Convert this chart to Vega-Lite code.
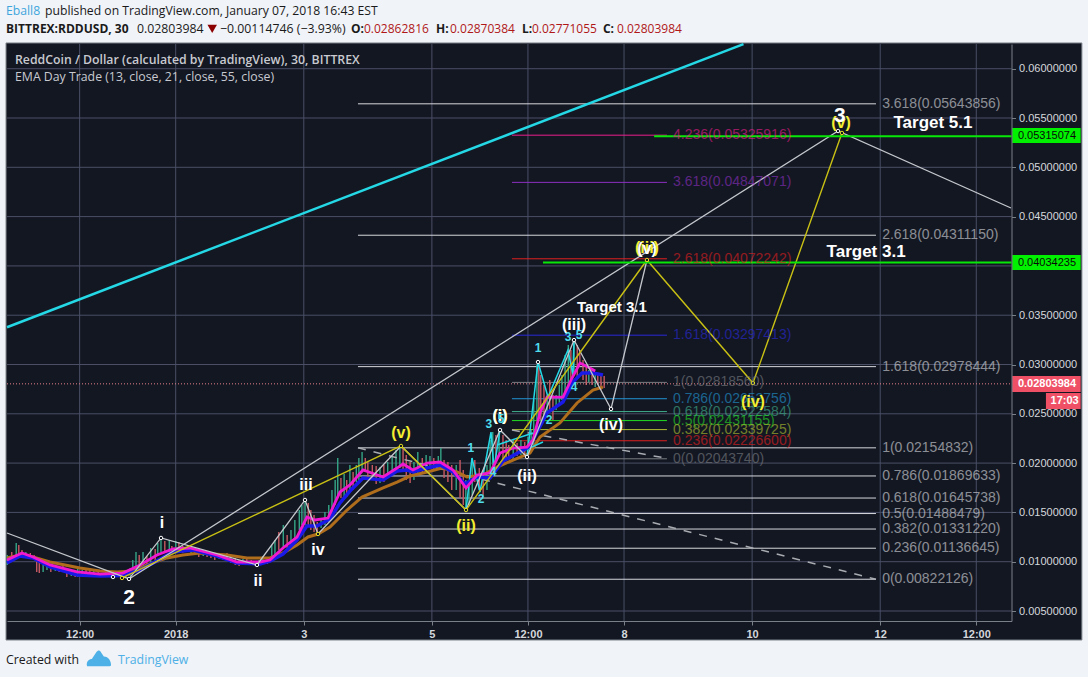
{
"$schema":"https://vega.github.io/schema/vega-lite/v6.json",
"width":1004.5,"height":577,
"autosize":{"type":"none"},
"padding":{"left":7,"top":44,"right":76.5,"bottom":56},
"background":"#f0f3f8",
"config":{"view":{"stroke":null},"text":{"font":"Liberation Sans"}},
"datasets":{
"panel":[{"t":-2.649,"t2":14.149,"v":0.06261,"v2":0.00206}],
"vgrid":[{"t":-1.5,"v":0.003986,"v2":0.062506},{"t":0,"v":0.003986,"v2":0.062506},{"t":2,"v":0.003986,"v2":0.062506},{"t":4,"v":0.003986,"v2":0.062506},{"t":5.5,"v":0.003986,"v2":0.062506},{"t":7,"v":0.003986,"v2":0.062506},{"t":9,"v":0.003986,"v2":0.062506},{"t":11,"v":0.003986,"v2":0.062506},{"t":12.5,"v":0.003986,"v2":0.062506}],
"hgrid":[{"v":0.005,"t":-2.634,"t2":13.05},{"v":0.01,"t":-2.634,"t2":13.05},{"v":0.015,"t":-2.634,"t2":13.05},{"v":0.02,"t":-2.634,"t2":13.05},{"v":0.025,"t":-2.634,"t2":13.05},{"v":0.03,"t":-2.634,"t2":13.05},{"v":0.035,"t":-2.634,"t2":13.05},{"v":0.04,"t":-2.634,"t2":13.05},{"v":0.045,"t":-2.634,"t2":13.05},{"v":0.05,"t":-2.634,"t2":13.05},{"v":0.055,"t":-2.634,"t2":13.05},{"v":0.06,"t":-2.634,"t2":13.05}],
"fib":[
{"lvl":"w","t":2.846,"t2":10.934,"v":0.05643856,"x":11.03,"label":"3.618(0.05643856)"},
{"lvl":"w","t":2.846,"t2":10.934,"v":0.0431115,"x":11.03,"label":"2.618(0.04311150)"},
{"lvl":"w","t":2.846,"t2":10.934,"v":0.02978444,"x":11.03,"label":"1.618(0.02978444)"},
{"lvl":"w","t":2.846,"t2":10.934,"v":0.02154832,"x":11.03,"label":"1(0.02154832)"},
{"lvl":"w","t":2.846,"t2":10.934,"v":0.01869633,"x":11.03,"label":"0.786(0.01869633)"},
{"lvl":"w","t":2.846,"t2":10.934,"v":0.01645738,"x":11.03,"label":"0.618(0.01645738)"},
{"lvl":"w","t":2.846,"t2":10.934,"v":0.01488479,"x":11.03,"label":"0.5(0.01488479)"},
{"lvl":"w","t":2.846,"t2":10.934,"v":0.0133122,"x":11.03,"label":"0.382(0.01331220)"},
{"lvl":"w","t":2.846,"t2":10.934,"v":0.01136645,"x":11.03,"label":"0.236(0.01136645)"},
{"lvl":"w","t":2.846,"t2":10.934,"v":0.00822126,"x":11.03,"label":"0(0.00822126)"},
{"lvl":"c4.236","t":5.25,"t2":7.67,"v":0.05325916,"x":7.765,"label":"4.236(0.05325916)"},
{"lvl":"c3.618","t":5.25,"t2":7.67,"v":0.04847071,"x":7.765,"label":"3.618(0.04847071)"},
{"lvl":"c2.618","t":5.25,"t2":7.67,"v":0.04072242,"x":7.765,"label":"2.618(0.04072242)"},
{"lvl":"c1.618","t":5.25,"t2":7.67,"v":0.03297413,"x":7.765,"label":"1.618(0.03297413)"},
{"lvl":"c1","t":5.25,"t2":7.67,"v":0.0281856,"x":7.765,"label":"1(0.02818560)"},
{"lvl":"c0.786","t":5.25,"t2":7.67,"v":0.02652756,"x":7.765,"label":"0.786(0.02652756)"},
{"lvl":"c0.618","t":5.25,"t2":7.67,"v":0.02522584,"x":7.765,"label":"0.618(0.02522584)"},
{"lvl":"c0.5","t":5.25,"t2":7.67,"v":0.02431155,"x":7.765,"label":"0.5(0.02431155)"},
{"lvl":"c0.382","t":5.25,"t2":7.67,"v":0.02339725,"x":7.765,"label":"0.382(0.02339725)"},
{"lvl":"c0.236","t":5.25,"t2":7.67,"v":0.022266,"x":7.765,"label":"0.236(0.02226600)"},
{"lvl":"c0","t":5.25,"t2":7.67,"v":0.0204374,"x":7.765,"label":"0(0.02043740)"}
],
"candles":[
{"t":-2.63,"v":0.01068,"v2":0.00967,"d":"g"},{"t":-2.56,"v":0.01098,"v2":0.00997,"d":"r"},{"t":-2.49,"v":0.0119,"v2":0.01058,"d":"g"},{"t":-2.45,"v":0.01169,"v2":0.01038,"d":"r"},{"t":-2.4,"v":0.01119,"v2":0.01058,"d":"r"},{"t":-2.34,"v":0.01098,"v2":0.01038,"d":"g"},{"t":-2.27,"v":0.01088,"v2":0.01027,"d":"r"},{"t":-2.21,"v":0.01068,"v2":0.01017,"d":"r"},{"t":-2.17,"v":0.01048,"v2":0.00896,"d":"r"},{"t":-2.13,"v":0.01017,"v2":0.00886,"d":"r"},{"t":-2.07,"v":0.00967,"v2":0.00896,"d":"g"},{"t":-2.01,"v":0.00987,"v2":0.00916,"d":"g"},{"t":-1.95,"v":0.00967,"v2":0.00896,"d":"r"},{"t":-1.88,"v":0.00956,"v2":0.00906,"d":"g"},{"t":-1.82,"v":0.00946,"v2":0.00896,"d":"r"},{"t":-1.76,"v":0.00956,"v2":0.00896,"d":"r"},{"t":-1.7,"v":0.00936,"v2":0.00845,"d":"r"},{"t":-1.63,"v":0.00916,"v2":0.00855,"d":"g"},{"t":-1.57,"v":0.00906,"v2":0.00845,"d":"r"},{"t":-1.53,"v":0.00926,"v2":0.00845,"d":"g"},{"t":-1.46,"v":0.00916,"v2":0.00865,"d":"g"},{"t":-1.4,"v":0.00936,"v2":0.00875,"d":"r"},{"t":-1.34,"v":0.00916,"v2":0.00865,"d":"r"},{"t":-1.28,"v":0.00916,"v2":0.00855,"d":"g"},{"t":-1.21,"v":0.00896,"v2":0.00845,"d":"r"},{"t":-1.15,"v":0.00886,"v2":0.00845,"d":"r"},{"t":-1.09,"v":0.00906,"v2":0.00845,"d":"g"},{"t":-1.03,"v":0.00906,"v2":0.00855,"d":"r"},{"t":-0.96,"v":0.00896,"v2":0.00835,"d":"g"},{"t":-0.9,"v":0.00906,"v2":0.00855,"d":"g"},{"t":-0.84,"v":0.00896,"v2":0.00835,"d":"r"},{"t":-0.78,"v":0.00906,"v2":0.00835,"d":"g"},{"t":-0.71,"v":0.00936,"v2":0.00855,"d":"g"},{"t":-0.67,"v":0.01017,"v2":0.00896,"d":"g"},{"t":-0.62,"v":0.01098,"v2":0.00916,"d":"g"},{"t":-0.57,"v":0.01068,"v2":0.00916,"d":"r"},{"t":-0.51,"v":0.01098,"v2":0.00967,"d":"g"},{"t":-0.45,"v":0.01058,"v2":0.00956,"d":"r"},{"t":-0.39,"v":0.01139,"v2":0.00997,"d":"g"},{"t":-0.32,"v":0.01129,"v2":0.01017,"d":"r"},{"t":-0.28,"v":0.0119,"v2":0.01058,"d":"g"},{"t":-0.23,"v":0.0123,"v2":0.01098,"d":"g"},{"t":-0.17,"v":0.0121,"v2":0.01088,"d":"r"},{"t":-0.1,"v":0.0122,"v2":0.01098,"d":"g"},{"t":-0.06,"v":0.01159,"v2":0.01088,"d":"r"},{"t":0,"v":0.0121,"v2":0.01098,"d":"g"},{"t":0.05,"v":0.012,"v2":0.01119,"d":"r"},{"t":0.11,"v":0.01159,"v2":0.01088,"d":"r"},{"t":0.18,"v":0.01149,"v2":0.01098,"d":"r"},{"t":0.24,"v":0.01159,"v2":0.01088,"d":"g"},{"t":0.3,"v":0.01129,"v2":0.01068,"d":"r"},{"t":0.36,"v":0.01129,"v2":0.01048,"d":"r"},{"t":0.43,"v":0.01119,"v2":0.01058,"d":"g"},{"t":0.49,"v":0.01109,"v2":0.01048,"d":"r"},{"t":0.55,"v":0.01098,"v2":0.01038,"d":"r"},{"t":0.61,"v":0.01088,"v2":0.01017,"d":"r"},{"t":0.68,"v":0.01088,"v2":0.01027,"d":"g"},{"t":0.74,"v":0.01078,"v2":0.01017,"d":"r"},{"t":0.8,"v":0.01088,"v2":0.01007,"d":"r"},{"t":0.86,"v":0.01048,"v2":0.00987,"d":"g"},{"t":0.93,"v":0.01038,"v2":0.00967,"d":"r"},{"t":0.99,"v":0.01017,"v2":0.00956,"d":"r"},{"t":1.05,"v":0.01027,"v2":0.00977,"d":"g"},{"t":1.11,"v":0.01027,"v2":0.00967,"d":"r"},{"t":1.18,"v":0.01017,"v2":0.00967,"d":"r"},{"t":1.24,"v":0.01007,"v2":0.00956,"d":"r"},{"t":1.3,"v":0.01017,"v2":0.00977,"d":"g"},{"t":1.36,"v":0.01058,"v2":0.00997,"d":"g"},{"t":1.43,"v":0.01038,"v2":0.00977,"d":"r"},
{"t":1.5,"v":0.01169,"v2":0.01017,"d":"g"},{"t":1.55,"v":0.0122,"v2":0.01068,"d":"g"},{"t":1.61,"v":0.01301,"v2":0.01119,"d":"r"},{"t":1.68,"v":0.01372,"v2":0.01139,"d":"g"},{"t":1.74,"v":0.01271,"v2":0.01139,"d":"r"},{"t":1.8,"v":0.01321,"v2":0.01169,"d":"g"},{"t":1.86,"v":0.01423,"v2":0.0124,"d":"g"},{"t":1.93,"v":0.01524,"v2":0.01321,"d":"g"},{"t":1.97,"v":0.01575,"v2":0.01372,"d":"g"},{"t":2.02,"v":0.01626,"v2":0.01372,"d":"g"},{"t":2.07,"v":0.01595,"v2":0.01372,"d":"r"},{"t":2.11,"v":0.01524,"v2":0.01321,"d":"r"},{"t":2.16,"v":0.01474,"v2":0.01301,"d":"r"},{"t":2.21,"v":0.01403,"v2":0.01281,"d":"r"},{"t":2.27,"v":0.01443,"v2":0.01342,"d":"g"},{"t":2.33,"v":0.01504,"v2":0.01372,"d":"g"},{"t":2.39,"v":0.01575,"v2":0.01403,"d":"g"},{"t":2.44,"v":0.01727,"v2":0.01453,"d":"g"},{"t":2.49,"v":0.01829,"v2":0.01575,"d":"g"},{"t":2.53,"v":0.02052,"v2":0.01677,"d":"g"},{"t":2.58,"v":0.01849,"v2":0.01646,"d":"r"},{"t":2.63,"v":0.01889,"v2":0.01656,"d":"g"},{"t":2.67,"v":0.01829,"v2":0.01656,"d":"r"},{"t":2.72,"v":0.01981,"v2":0.01727,"d":"g"},{"t":2.77,"v":0.0191,"v2":0.01727,"d":"r"},{"t":2.82,"v":0.01981,"v2":0.01808,"d":"g"},{"t":2.86,"v":0.02052,"v2":0.01829,"d":"g"},{"t":2.91,"v":0.02113,"v2":0.0191,"d":"g"},{"t":2.96,"v":0.02052,"v2":0.0191,"d":"r"},{"t":3.0,"v":0.02011,"v2":0.01849,"d":"r"},{"t":3.07,"v":0.01981,"v2":0.01829,"d":"r"},{"t":3.13,"v":0.0197,"v2":0.01788,"d":"r"},{"t":3.19,"v":0.0196,"v2":0.01798,"d":"g"},{"t":3.25,"v":0.01981,"v2":0.01808,"d":"r"},{"t":3.31,"v":0.02011,"v2":0.01879,"d":"g"},{"t":3.38,"v":0.02072,"v2":0.0193,"d":"g"},{"t":3.44,"v":0.02133,"v2":0.0193,"d":"g"},{"t":3.5,"v":0.02174,"v2":0.0195,"d":"g"},{"t":3.55,"v":0.02153,"v2":0.0193,"d":"r"},{"t":3.6,"v":0.02082,"v2":0.01829,"d":"r"},{"t":3.66,"v":0.02011,"v2":0.01798,"d":"r"},{"t":3.72,"v":0.02011,"v2":0.01829,"d":"g"},{"t":3.78,"v":0.02113,"v2":0.01879,"d":"g"},{"t":3.85,"v":0.02052,"v2":0.0191,"d":"r"},{"t":3.91,"v":0.02082,"v2":0.0193,"d":"g"},{"t":3.97,"v":0.02072,"v2":0.0195,"d":"g"},{"t":4.03,"v":0.02052,"v2":0.0193,"d":"r"},{"t":4.1,"v":0.02072,"v2":0.01981,"d":"g"},{"t":4.14,"v":0.02153,"v2":0.01981,"d":"g"},{"t":4.19,"v":0.02031,"v2":0.01849,"d":"r"},{"t":4.25,"v":0.02011,"v2":0.01808,"d":"r"},{"t":4.31,"v":0.01981,"v2":0.01727,"d":"r"},{"t":4.38,"v":0.01981,"v2":0.01727,"d":"g"},{"t":4.44,"v":0.02031,"v2":0.01646,"d":"r"},{"t":4.49,"v":0.0193,"v2":0.01575,"d":"r"},{"t":4.53,"v":0.01829,"v2":0.01524,"d":"g"},{"t":4.58,"v":0.01829,"v2":0.01575,"d":"g"},{"t":4.63,"v":0.02052,"v2":0.01677,"d":"g"},{"t":4.67,"v":0.02031,"v2":0.01808,"d":"r"},{"t":4.74,"v":0.0195,"v2":0.01727,"d":"r"},{"t":4.8,"v":0.0193,"v2":0.01656,"d":"r"},{"t":4.86,"v":0.01981,"v2":0.01727,"d":"g"},{"t":4.91,"v":0.02234,"v2":0.01849,"d":"g"},{"t":4.95,"v":0.02315,"v2":0.01981,"d":"g"},{"t":5.0,"v":0.02285,"v2":0.02031,"d":"r"},{"t":5.05,"v":0.02336,"v2":0.02082,"d":"g"},{"t":5.11,"v":0.02285,"v2":0.02031,"d":"r"},{"t":5.16,"v":0.02234,"v2":0.02052,"d":"r"},{"t":5.2,"v":0.02184,"v2":0.02031,"d":"r"},{"t":5.27,"v":0.02234,"v2":0.02052,"d":"g"},{"t":5.33,"v":0.02204,"v2":0.02072,"d":"r"},{"t":5.39,"v":0.02234,"v2":0.02082,"d":"g"},{"t":5.45,"v":0.02214,"v2":0.02062,"d":"r"},{"t":5.5,"v":0.02265,"v2":0.02082,"d":"g"},{"t":5.55,"v":0.02336,"v2":0.02133,"d":"g"},{"t":5.59,"v":0.0264,"v2":0.02184,"d":"g"},{"t":5.64,"v":0.02995,"v2":0.02437,"d":"g"},{"t":5.67,"v":0.03025,"v2":0.02488,"d":"r"},{"t":5.7,"v":0.02894,"v2":0.02437,"d":"r"},{"t":5.75,"v":0.02792,"v2":0.02488,"d":"r"},{"t":5.8,"v":0.02691,"v2":0.02488,"d":"g"},{"t":5.84,"v":0.02843,"v2":0.02518,"d":"r"},{"t":5.89,"v":0.02691,"v2":0.02437,"d":"r"},{"t":5.94,"v":0.02691,"v2":0.02539,"d":"g"},{"t":5.99,"v":0.02792,"v2":0.02589,"d":"g"},{"t":6.03,"v":0.02894,"v2":0.0264,"d":"g"},{"t":6.08,"v":0.03096,"v2":0.02691,"d":"g"},{"t":6.13,"v":0.03198,"v2":0.02792,"d":"g"},{"t":6.17,"v":0.03147,"v2":0.02843,"d":"r"},{"t":6.22,"v":0.03248,"v2":0.02894,"d":"g"},{"t":6.27,"v":0.03198,"v2":0.02863,"d":"r"},{"t":6.31,"v":0.03147,"v2":0.02995,"d":"r"},{"t":6.36,"v":0.03046,"v2":0.02843,"d":"r"},{"t":6.41,"v":0.02995,"v2":0.02792,"d":"r"},{"t":6.45,"v":0.02944,"v2":0.02823,"d":"g"},{"t":6.5,"v":0.02964,"v2":0.02792,"d":"r"},{"t":6.55,"v":0.02924,"v2":0.02772,"d":"g"},{"t":6.59,"v":0.02894,"v2":0.02792,"d":"r"},{"t":6.64,"v":0.02904,"v2":0.02741,"d":"r"},{"t":6.69,"v":0.02883,"v2":0.02762,"d":"r"}
],
"emas":[
{"s":"ema55","t":-2.634,"v":0.01038},{"s":"ema55","t":-2.431,"v":0.01068},{"s":"ema55","t":-2.228,"v":0.01048},{"s":"ema55","t":-1.963,"v":0.00997},{"s":"ema55","t":-1.494,"v":0.00936},{"s":"ema55","t":-1.182,"v":0.00906},{"s":"ema55","t":-0.916,"v":0.00896},{"s":"ema55","t":-0.667,"v":0.00906},{"s":"ema55","t":-0.448,"v":0.00967},{"s":"ema55","t":-0.136,"v":0.01038},{"s":"ema55","t":0.114,"v":0.01068},{"s":"ema55","t":0.379,"v":0.01088},{"s":"ema55","t":0.801,"v":0.01068},{"s":"ema55","t":1.113,"v":0.01038},{"s":"ema55","t":1.472,"v":0.01038},{"s":"ema55","t":1.675,"v":0.01088},{"s":"ema55","t":1.894,"v":0.01169},{"s":"ema55","t":2.066,"v":0.01251},{"s":"ema55","t":2.222,"v":0.01281},{"s":"ema55","t":2.409,"v":0.01352},{"s":"ema55","t":2.675,"v":0.01524},{"s":"ema55","t":2.909,"v":0.01656},{"s":"ema55","t":3.237,"v":0.01748},{"s":"ema55","t":3.456,"v":0.01808},{"s":"ema55","t":3.658,"v":0.01869},{"s":"ema55","t":3.924,"v":0.0191},{"s":"ema55","t":4.158,"v":0.0195},{"s":"ema55","t":4.393,"v":0.0191},{"s":"ema55","t":4.548,"v":0.01859},{"s":"ema55","t":4.798,"v":0.01879},{"s":"ema55","t":5.017,"v":0.0196},{"s":"ema55","t":5.267,"v":0.02031},{"s":"ema55","t":5.532,"v":0.02102},{"s":"ema55","t":5.688,"v":0.02265},{"s":"ema55","t":6.0,"v":0.02407},{"s":"ema55","t":6.266,"v":0.0261},{"s":"ema55","t":6.515,"v":0.02741},{"s":"ema55","t":6.671,"v":0.02772},
{"s":"ema21","t":-2.634,"v":0.00987},{"s":"ema21","t":-2.431,"v":0.01058},{"s":"ema21","t":-2.228,"v":0.01038},{"s":"ema21","t":-1.963,"v":0.00947},{"s":"ema21","t":-1.541,"v":0.00866},{"s":"ema21","t":-1.182,"v":0.00855},{"s":"ema21","t":-0.823,"v":0.0086},{"s":"ema21","t":-0.557,"v":0.00916},{"s":"ema21","t":-0.292,"v":0.01008},{"s":"ema21","t":-0.042,"v":0.01099},{"s":"ema21","t":0.27,"v":0.01119},{"s":"ema21","t":0.645,"v":0.01058},{"s":"ema21","t":0.957,"v":0.00987},{"s":"ema21","t":1.316,"v":0.00977},{"s":"ema21","t":1.472,"v":0.01007},{"s":"ema21","t":1.675,"v":0.01078},{"s":"ema21","t":1.894,"v":0.0122},{"s":"ema21","t":2.05,"v":0.01362},{"s":"ema21","t":2.206,"v":0.01362},{"s":"ema21","t":2.409,"v":0.01433},{"s":"ema21","t":2.565,"v":0.01596},{"s":"ema21","t":2.721,"v":0.01717},{"s":"ema21","t":2.924,"v":0.01849},{"s":"ema21","t":3.237,"v":0.01829},{"s":"ema21","t":3.456,"v":0.0192},{"s":"ema21","t":3.612,"v":0.0193},{"s":"ema21","t":3.705,"v":0.0191},{"s":"ema21","t":3.924,"v":0.0195},{"s":"ema21","t":4.127,"v":0.01981},{"s":"ema21","t":4.33,"v":0.0191},{"s":"ema21","t":4.517,"v":0.01788},{"s":"ema21","t":4.705,"v":0.01859},{"s":"ema21","t":4.908,"v":0.01849},{"s":"ema21","t":5.111,"v":0.02022},{"s":"ema21","t":5.485,"v":0.02154},{"s":"ema21","t":5.532,"v":0.02174},{"s":"ema21","t":5.61,"v":0.02275},{"s":"ema21","t":5.798,"v":0.02509},{"s":"ema21","t":6.047,"v":0.0262},{"s":"ema21","t":6.203,"v":0.02823},{"s":"ema21","t":6.344,"v":0.02914},{"s":"ema21","t":6.515,"v":0.02914},{"s":"ema21","t":6.671,"v":0.02894},
{"s":"ema13","t":-2.634,"v":0.01017},{"s":"ema13","t":-2.4,"v":0.01088},{"s":"ema13","t":-2.228,"v":0.01048},{"s":"ema13","t":-1.963,"v":0.00967},{"s":"ema13","t":-1.541,"v":0.00896},{"s":"ema13","t":-1.182,"v":0.00875},{"s":"ema13","t":-0.823,"v":0.00885},{"s":"ema13","t":-0.557,"v":0.00967},{"s":"ema13","t":-0.292,"v":0.01068},{"s":"ema13","t":-0.042,"v":0.01129},{"s":"ema13","t":0.223,"v":0.01139},{"s":"ema13","t":0.645,"v":0.01068},{"s":"ema13","t":0.957,"v":0.00997},{"s":"ema13","t":1.316,"v":0.00997},{"s":"ema13","t":1.472,"v":0.01017},{"s":"ema13","t":1.675,"v":0.01139},{"s":"ema13","t":1.894,"v":0.0125},{"s":"ema13","t":2.05,"v":0.01453},{"s":"ema13","t":2.175,"v":0.01423},{"s":"ema13","t":2.378,"v":0.01443},{"s":"ema13","t":2.565,"v":0.01707},{"s":"ema13","t":2.721,"v":0.01778},{"s":"ema13","t":2.924,"v":0.0193},{"s":"ema13","t":3.237,"v":0.01859},{"s":"ema13","t":3.456,"v":0.0195},{"s":"ema13","t":3.549,"v":0.01991},{"s":"ema13","t":3.705,"v":0.0193},{"s":"ema13","t":3.924,"v":0.02001},{"s":"ema13","t":4.127,"v":0.02011},{"s":"ema13","t":4.33,"v":0.0193},{"s":"ema13","t":4.533,"v":0.01747},{"s":"ema13","t":4.705,"v":0.01879},{"s":"ema13","t":4.908,"v":0.019},{"s":"ema13","t":5.064,"v":0.02102},{"s":"ema13","t":5.267,"v":0.02153},{"s":"ema13","t":5.485,"v":0.02163},{"s":"ema13","t":5.579,"v":0.02234},{"s":"ema13","t":5.688,"v":0.02508},{"s":"ema13","t":5.798,"v":0.0267},{"s":"ema13","t":6.047,"v":0.0267},{"s":"ema13","t":6.188,"v":0.02863},{"s":"ema13","t":6.313,"v":0.03015},{"s":"ema13","t":6.438,"v":0.02975},{"s":"ema13","t":6.55,"v":0.02934}
],
"white":[
{"s":"a","t":-2.634,"v":0.01291},{"s":"a","t":-0.729,"v":0.00825},
{"s":"b","t":-0.729,"v":0.00825},{"s":"b","t":10.342,"v":0.05368},{"s":"b","t":13.042,"v":0.04587},
{"s":"w","t":-0.729,"v":0.00825},{"s":"w","t":-0.229,"v":0.01241},{"s":"w","t":1.269,"v":0.00967},{"s":"w","t":2.019,"v":0.01626},{"s":"w","t":2.222,"v":0.01281},{"s":"w","t":3.518,"v":0.02174},{"s":"w","t":4.533,"v":0.01524},{"s":"w","t":5.064,"v":0.02336},{"s":"w","t":5.485,"v":0.02062},{"s":"w","t":6.219,"v":0.03248},{"s":"w","t":6.797,"v":0.02549},{"s":"w","t":7.358,"v":0.0406}
],
"yellow":[{"t":-0.838,"v":0.00835},{"t":3.518,"v":0.02174},{"t":4.533,"v":0.01524},{"t":7.358,"v":0.0406},{"t":9.013,"v":0.02812},{"t":10.403,"v":0.05348}],
"cyanw":[
{"s":"c1","t":4.533,"v":0.01524},{"s":"c1","t":4.626,"v":0.02052},{"s":"c1","t":4.751,"v":0.01707},{"s":"c1","t":4.923,"v":0.02315},{"s":"c1","t":4.97,"v":0.0195},{"s":"c1","t":5.064,"v":0.02336},
{"s":"c2","t":5.485,"v":0.02062},{"s":"c2","t":5.657,"v":0.03025},{"s":"c2","t":5.813,"v":0.0267},{"s":"c2","t":6.125,"v":0.03147},{"s":"c2","t":6.203,"v":0.02893},{"s":"c2","t":6.219,"v":0.03248},
{"s":"c3","t":5.017,"v":0.02184},{"s":"c3","t":5.579,"v":0.02305},
{"s":"c4","t":5.11,"v":0.02031},{"s":"c4","t":5.735,"v":0.02214}
],
"trend":[{"t":-2.634,"v":0.03378},{"t":8.865,"v":0.0625}],
"dash":[{"s":"d1","t":2.846,"v":0.02155},{"s":"d1","t":10.934,"v":0.00822},{"s":"d2","t":5.25,"v":0.02336},{"s":"d2","t":7.64,"v":0.02052}],
"target":[{"t":7.47,"t2":13.05,"v":0.05315074},{"t":5.735,"t2":13.05,"v":0.04034235}],
"last":[{"t":-2.634,"t2":13.05,"v":0.02803984}],
"boxG":[{"t":13.06,"t2":14.13,"v":0.05399,"v2":0.05246},{"t":13.06,"t2":14.13,"v":0.04111,"v2":0.03958}],
"boxR":[{"t":13.06,"t2":14.13,"v":0.02883,"v2":0.02721},{"t":13.588,"t2":14.13,"v":0.02711,"v2":0.02549}],
"ptsW":[{"t":-0.979,"v":0.00845},{"t":-0.729,"v":0.00825},{"t":-0.229,"v":0.01241},{"t":1.269,"v":0.00967},{"t":2.019,"v":0.01626},{"t":5.064,"v":0.02336},{"t":5.485,"v":0.02062},{"t":5.657,"v":0.03025},{"t":6.219,"v":0.03248},{"t":6.797,"v":0.02549},{"t":10.342,"v":0.05368}],
"ptsY":[{"t":-0.838,"v":0.00835},{"t":2.222,"v":0.01281},{"t":3.518,"v":0.02174},{"t":4.533,"v":0.01524},{"t":7.358,"v":0.0406},{"t":9.013,"v":0.02812},{"t":10.403,"v":0.05348}],
"lblY":[{"t":3.518,"v":0.02305,"label":"(v)"},{"t":4.533,"v":0.01362,"label":"(ii)"},{"t":5.064,"v":0.02478,"label":"(i)"},{"t":7.358,"v":0.04181,"label":"(iii)"},{"t":9.013,"v":0.0262,"label":"(iv)"},{"t":10.387,"v":0.05449,"label":"(v)"}],
"lblW":[{"t":-0.214,"v":0.01393,"label":"i"},{"t":1.285,"v":0.00804,"label":"ii"},{"t":2.034,"v":0.01778,"label":"iii"},{"t":2.222,"v":0.01119,"label":"iv"},{"t":5.485,"v":0.01869,"label":"(ii)"},{"t":6.219,"v":0.03401,"label":"(iii)"},{"t":6.797,"v":0.02387,"label":"(iv)"},{"t":5.064,"v":0.02478,"label":"(i)"},{"t":7.358,"v":0.04171,"label":"(v)"}],
"lblBig":[{"t":-0.729,"v":0.00632,"label":"2"},{"t":10.37,"v":0.0552,"label":"3"}],
"lblC":[{"t":4.61,"v":0.02153,"label":"1"},{"t":4.767,"v":0.01641,"label":"2"},{"t":4.89,"v":0.024,"label":"3"},{"t":5.08,"v":0.02443,"label":"5"},{"t":4.954,"v":0.0191,"label":"4"},{"t":5.657,"v":0.03167,"label":"1"},{"t":5.829,"v":0.02437,"label":"2"},{"t":6.125,"v":0.03279,"label":"3"},{"t":6.219,"v":0.02772,"label":"4"},{"t":6.297,"v":0.03299,"label":"5"}],
"lblT":[{"t":11.824,"v":0.05449,"label":"Target 5.1"},{"t":10.78,"v":0.04138,"label":"Target 3.1"}],
"lblT2":[{"t":6.811,"v":0.03583,"label":"Target 3.1"}]
},
"encoding":{
"x":{"field":"t","type":"quantitative","scale":{"domain":[-2.634,13.05],"nice":false,"zero":false},
 "axis":{"title":null,"grid":false,"zindex":1,"orient":"bottom","values":[-1.5,0,2,4,5.5,7,9,11,12.5],"labelExpr":"(datum.value==-1.5||datum.value==5.5||datum.value==12.5)?'12:00':(datum.value==0?'2018':''+(datum.value+1))","labelFont":"Liberation Sans","labelFontSize":11,"labelFontWeight":"bold","labelColor":"#d5d8dc","tickColor":"#7a8088","domainColor":"#7a8088","tickSize":4,"labelPadding":3,"labelOverlap":false}},
"y":{"field":"v","type":"quantitative","scale":{"domain":[0.003986,0.062506],"nice":false,"zero":false},
 "axis":{"title":null,"grid":false,"zindex":1,"orient":"right","values":[0.005,0.01,0.015,0.02,0.025,0.03,0.035,0.045,0.05,0.055,0.06],"format":".8f","labelFont":"Liberation Sans","labelFontSize":11,"labelColor":"#d5d8dc","tickColor":"#7a8088","domainColor":"#7a8088","tickSize":4,"labelPadding":3,"labelOverlap":false}}
},
"layer":[
{"data":{"name":"panel"},"mark":{"type":"rect","fill":"#131722","stroke":"#7a8088","strokeWidth":1},"encoding":{"x2":{"field":"t2"},"y2":{"field":"v2"}}},
{"data":{"name":"vgrid"},"mark":{"type":"rule","color":"#4a4f66","strokeWidth":1},"encoding":{"y2":{"field":"v2"}}},
{"data":{"name":"hgrid"},"mark":{"type":"rule","color":"#4a4f66","strokeWidth":1},"encoding":{"x2":{"field":"t2"}}},
{"data":{"name":"fib"},"mark":{"type":"rule","strokeWidth":1},"encoding":{"x2":{"field":"t2"},"color":{"field":"lvl","type":"nominal","legend":null,"scale":{"domain":["w","c4.236","c3.618","c2.618","c1.618","c1","c0.786","c0.618","c0.5","c0.382","c0.236","c0"],"range":["#d6d8dc","#e91e8c","#8b2fc0","#e02020","#2a2ad8","#787b80","#2196d3","#3fae8c","#22dd22","#b0c030","#e02020","#787b80"]}}}},
{"data":{"name":"candles"},"transform":[{"filter":"datum.d=='g'"}],"mark":{"type":"rule","color":"#35a587","strokeWidth":1.4},"encoding":{"y2":{"field":"v2"}}},
{"data":{"name":"candles"},"transform":[{"filter":"datum.d=='r'"}],"mark":{"type":"rule","color":"#c85a64","strokeWidth":1.4},"encoding":{"y2":{"field":"v2"}}},
{"data":{"name":"last"},"mark":{"type":"rule","color":"#e8808a","strokeWidth":1,"strokeDash":[1,2]},"encoding":{"x2":{"field":"t2"}}},
{"data":{"name":"trend"},"mark":{"type":"line","color":"#25d8e6","strokeWidth":2.5},"encoding":{}},
{"data":{"name":"dash"},"mark":{"type":"line","color":"#a8abb0","strokeWidth":1.5,"strokeDash":[8,8]},"encoding":{"detail":{"field":"s"}}},
{"data":{"name":"emas"},"transform":[{"filter":"datum.s=='ema55'"}],"mark":{"type":"line","color":"#b06e1c","strokeWidth":3},"encoding":{}},
{"data":{"name":"cyanw"},"mark":{"type":"line","color":"#25d8e6","strokeWidth":1.5},"encoding":{"detail":{"field":"s"}}},
{"data":{"name":"emas"},"transform":[{"filter":"datum.s=='ema21'"}],"mark":{"type":"line","color":"#1a1ae8","strokeWidth":3.5},"encoding":{}},
{"data":{"name":"emas"},"transform":[{"filter":"datum.s=='ema13'"}],"mark":{"type":"line","color":"#f018d0","strokeWidth":2.8},"encoding":{}},
{"data":{"name":"white"},"mark":{"type":"line","color":"#c4c7cc","strokeWidth":1.3},"encoding":{"detail":{"field":"s"}}},
{"data":{"name":"yellow"},"mark":{"type":"line","color":"#c8c014","strokeWidth":1.4},"encoding":{}},
{"data":{"name":"target"},"mark":{"type":"rule","color":"#08e808","strokeWidth":2},"encoding":{"x2":{"field":"t2"}}},
{"data":{"name":"ptsW"},"mark":{"type":"point","filled":true,"fill":"#131722","stroke":"#ffffff","strokeWidth":1,"size":12,"opacity":1},"encoding":{}},
{"data":{"name":"ptsY"},"mark":{"type":"point","filled":true,"fill":"#131722","stroke":"#e6e020","strokeWidth":1,"size":12,"opacity":1},"encoding":{}},
{"data":{"name":"fib"},"mark":{"type":"text","align":"left","baseline":"middle","fontSize":14,"opacity":0.62},"encoding":{"x":{"field":"x"},"text":{"field":"label"},"color":{"field":"lvl","type":"nominal","legend":null}}},
{"data":{"name":"lblY"},"mark":{"type":"text","fontWeight":"bold","fontSize":16,"color":"#f4ee30","baseline":"middle"},"encoding":{"text":{"field":"label"}}},
{"data":{"name":"lblW"},"mark":{"type":"text","fontWeight":"bold","fontSize":16,"color":"#ffffff","baseline":"middle"},"encoding":{"text":{"field":"label"}}},
{"data":{"name":"lblBig"},"mark":{"type":"text","fontWeight":"bold","fontSize":21,"color":"#ffffff","baseline":"middle"},"encoding":{"text":{"field":"label"}}},
{"data":{"name":"lblC"},"mark":{"type":"text","fontWeight":"bold","fontSize":12,"color":"#4fdcec","baseline":"middle"},"encoding":{"text":{"field":"label"}}},
{"data":{"name":"lblT"},"mark":{"type":"text","fontWeight":"bold","fontSize":17,"color":"#ffffff","baseline":"middle"},"encoding":{"text":{"field":"label"}}},
{"data":{"name":"lblT2"},"mark":{"type":"text","fontWeight":"bold","fontSize":15,"color":"#ffffff","baseline":"middle"},"encoding":{"text":{"field":"label"}}},
{"data":{"name":"boxG"},"mark":{"type":"rect","fill":"#00f000"},"encoding":{"x2":{"field":"t2"},"y2":{"field":"v2"}}},
{"data":{"name":"boxR"},"mark":{"type":"rect","fill":"#ef5066"},"encoding":{"x2":{"field":"t2"},"y2":{"field":"v2"}}},
{"data":{"values":[{"t":13.15,"v":0.05315074,"label":"0.05315074"},{"t":13.15,"v":0.04034235,"label":"0.04034235"}]},"mark":{"type":"text","align":"left","baseline":"middle","fontSize":11,"color":"#0a0a0a"},"encoding":{"text":{"field":"label"}}},
{"data":{"values":[{"t":13.15,"v":0.02803984,"label":"0.02803984"},{"t":13.66,"v":0.0263,"label":"17:03"}]},"mark":{"type":"text","align":"left","baseline":"middle","fontSize":11,"fontWeight":"bold","color":"#ffffff"},"encoding":{"text":{"field":"label"}}},
{"data":{"values":[{"t":-2.509,"v":0.06088,"label":"ReddCoin / Dollar (calculated by TradingView), 30, BITTREX"}]},"mark":{"type":"text","align":"left","baseline":"middle","font":"Open Sans","fontSize":12.3,"fontWeight":600,"color":"#c8cad0"},"encoding":{"text":{"field":"label"}}},
{"data":{"values":[{"t":-2.509,"v":0.05916,"label":"EMA Day Trade (13, close, 21, close, 55, close)"}]},"mark":{"type":"text","align":"left","baseline":"middle","font":"Open Sans","fontSize":12.3,"color":"#c8cad0"},"encoding":{"text":{"field":"label"}}},
{"data":{"values":[{"t":-2.649,"v":0.06585,"label":"Eball8"}]},"mark":{"type":"text","align":"left","baseline":"middle","font":"Open Sans","fontSize":12.2,"color":"#3ea6dc"},"encoding":{"text":{"field":"label"}}},
{"data":{"values":[{"t":-2.04,"v":0.06585,"label":"published on TradingView.com, January 07, 2018 16:43 EST"}]},"mark":{"type":"text","align":"left","baseline":"middle","font":"Open Sans","fontSize":12.2,"color":"#1a1a1a"},"encoding":{"text":{"field":"label"}}},
{"data":{"values":[{"t":-0.604,"v":0.06403,"label":"0.02803984"},{"t":0.692,"v":0.06403,"label":"−0.00114746 (−3.93%)"},{"t":-2.649,"v":0.00003,"label":"Created with"}]},"mark":{"type":"text","align":"left","baseline":"middle","font":"Open Sans","fontSize":12.3,"color":"#1a1a1a"},"encoding":{"text":{"field":"label"}}},
{"data":{"values":[{"t":-2.649,"v":0.06403,"label":"BITTREX:RDDUSD, 30"},{"t":2.737,"v":0.06403,"label":"O:"},{"t":4.064,"v":0.06403,"label":"H:"},{"t":5.407,"v":0.06403,"label":"L:"},{"t":6.671,"v":0.06403,"label":"C:"}]},"mark":{"type":"text","align":"left","baseline":"middle","font":"Open Sans","fontSize":12,"fontWeight":"bold","color":"#1a1a1a"},"encoding":{"text":{"field":"label"}}},
{"data":{"values":[{"t":2.94,"v":0.06403,"label":"0.02862816"},{"t":4.283,"v":0.06403,"label":"0.02870384"},{"t":5.563,"v":0.06403,"label":"0.02771055"},{"t":6.89,"v":0.06403,"label":"0.02803984"}]},"mark":{"type":"text","align":"left","baseline":"middle","font":"Open Sans","fontSize":12,"color":"#b01818"},"encoding":{"text":{"field":"label"}}},
{"data":{"values":[{"t":0.57,"v":0.06403}]},"mark":{"type":"point","filled":true,"shape":"triangle-down","size":90,"color":"#8b0000","opacity":1},"encoding":{}},
{"data":{"values":[{"t":-0.901,"v":0.00003,"label":"TradingView"}]},"mark":{"type":"text","align":"left","baseline":"middle","font":"Open Sans","fontSize":12.3,"color":"#4db0e6"},"encoding":{"text":{"field":"label"}}},
{"data":{"values":[{"t":-1.197,"v":0.00013}]},"mark":{"type":"point","filled":true,"size":2304,"opacity":1,"color":"#4db0e6","shape":"M-0.5,0.3 C-0.55,0.1 -0.4,0 -0.3,0 L-0.1,-0.3 C0,-0.4 0.05,-0.35 0.1,-0.25 L0.2,-0.1 C0.4,-0.1 0.5,0.1 0.5,0.25 C0.5,0.3 0.45,0.3 0.4,0.3 Z"},"encoding":{}}
]
}
